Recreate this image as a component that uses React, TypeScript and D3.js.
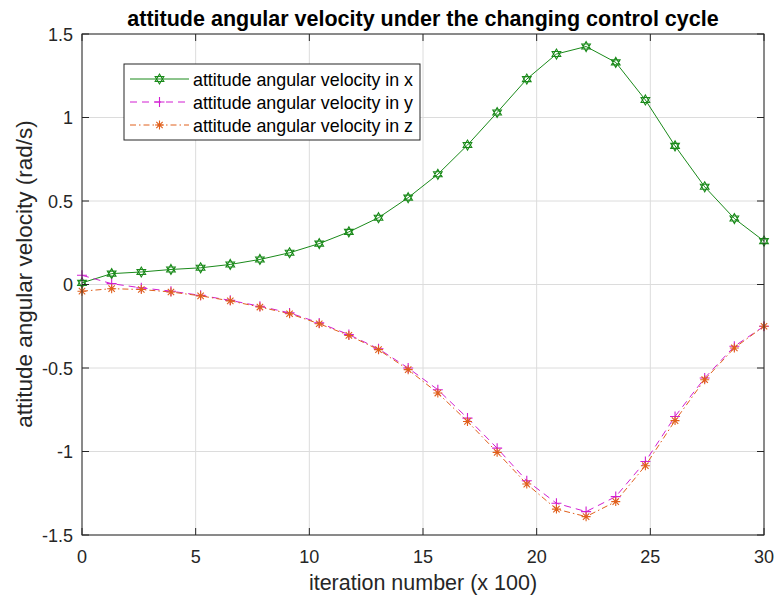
import React from "react";
import * as d3 from "d3";

const xValues: number[] = Array.from({ length: 24 }, (_, i) => (i * 30) / 23);
const seriesX: number[] = [0.01, 0.065, 0.075, 0.09, 0.1, 0.12, 0.15, 0.19, 0.245, 0.315, 0.4, 0.52, 0.66, 0.835, 1.03, 1.23, 1.38, 1.425, 1.33, 1.105, 0.83, 0.585, 0.395, 0.26];
const seriesY: number[] = [0.055, 0.005, -0.02, -0.04, -0.065, -0.095, -0.13, -0.17, -0.23, -0.3, -0.385, -0.5, -0.63, -0.8, -0.98, -1.175, -1.31, -1.36, -1.27, -1.06, -0.79, -0.56, -0.37, -0.25];
const seriesZ: number[] = [-0.04, -0.025, -0.03, -0.045, -0.068, -0.098, -0.135, -0.175, -0.235, -0.305, -0.39, -0.51, -0.65, -0.82, -1.005, -1.195, -1.345, -1.39, -1.3, -1.085, -0.815, -0.57, -0.38, -0.25];
const xTicks: number[] = [0, 5, 10, 15, 20, 25, 30];
const yTicks: number[] = [-1.5, -1, -0.5, 0, 0.5, 1, 1.5];
const legendLabels: string[] = [
  "attitude angular velocity in x",
  "attitude angular velocity in y",
  "attitude angular velocity in z",
];
const title = "attitude angular velocity under the changing control cycle";
const xLabel = "iteration number (x 100)";
const yLabel = "attitude angular velocity (rad/s)";

const W = 776;
const H = 597;
const L = 82, R = 764, T = 34, B = 535;
const FONT = "'Liberation Sans', Arial, Helvetica, sans-serif";
const AX = "#262626";

const cX = "#1a8a1a";
const cY = "#d21fd2";
const cZ = "#e0601c";

function hexagram(cx: number, cy: number, r: number): string {
  const t1 = d3.range(3).map((k) => {
    const a = -Math.PI / 2 + (k * 2 * Math.PI) / 3;
    return [cx + r * Math.cos(a), cy + r * Math.sin(a)];
  });
  const t2 = d3.range(3).map((k) => {
    const a = Math.PI / 2 + (k * 2 * Math.PI) / 3;
    return [cx + r * Math.cos(a), cy + r * Math.sin(a)];
  });
  const p = (pts: number[][]) => "M" + pts.map((q) => q.join(",")).join("L") + "Z";
  return p(t1) + p(t2);
}

function Marker({ kind, x, y, color }: { kind: string; x: number; y: number; color: string }) {
  if (kind === "hex") {
    return <path d={hexagram(x, y, 5)} fill="none" stroke={color} strokeWidth={1.1} />;
  }
  if (kind === "plus") {
    const s = 5;
    return (
      <path d={`M${x - s},${y}L${x + s},${y}M${x},${y - s}L${x},${y + s}`} stroke={color} strokeWidth={1.1} />
    );
  }
  const s = 4.5;
  const d = 3.2;
  return (
    <path
      d={`M${x - s},${y}L${x + s},${y}M${x},${y - s}L${x},${y + s}M${x - d},${y - d}L${x + d},${y + d}M${x - d},${y + d}L${x + d},${y - d}`}
      stroke={color}
      strokeWidth={1.1}
    />
  );
}

export default function App() {
  const x = d3.scaleLinear().domain([0, 30]).range([L, R]);
  const y = d3.scaleLinear().domain([-1.5, 1.5]).range([B, T]);
  const line = d3
    .line<number>()
    .x((_, i) => x(xValues[i]))
    .y((d) => y(d));

  const series = [
    { data: seriesX, color: cX, dash: "none", marker: "hex" },
    { data: seriesY, color: cY, dash: "7,5", marker: "plus" },
    { data: seriesZ, color: cZ, dash: "6,3,1.5,3", marker: "star" },
  ];

  const lgX = 124, lgY = 64, lgW = 296, lgH = 76;
  const rowY = [79, 102, 125];

  return (
    <svg width={W} height={H} style={{ position: "absolute", left: 0, top: 0 }} fontFamily={FONT}>
      <rect x={0} y={0} width={W} height={H} fill="#ffffff" />
      {xTicks.map((t) => (
        <line key={"gx" + t} x1={x(t)} x2={x(t)} y1={T} y2={B} stroke="#dcdcdc" strokeWidth={1} />
      ))}
      {yTicks.map((t) => (
        <line key={"gy" + t} x1={L} x2={R} y1={y(t)} y2={y(t)} stroke="#dcdcdc" strokeWidth={1} />
      ))}
      {series.map((s, k) => (
        <path key={"l" + k} d={line(s.data) || ""} fill="none" stroke={s.color} strokeWidth={1} strokeDasharray={s.dash} />
      ))}
      {series.map((s, k) =>
        s.data.map((v, i) => <Marker key={"m" + k + "-" + i} kind={s.marker} x={x(xValues[i])} y={y(v)} color={s.color} />)
      )}
      <rect x={L} y={T} width={R - L} height={B - T} fill="none" stroke={AX} strokeWidth={1} />
      {xTicks.map((t) => (
        <g key={"tx" + t}>
          <line x1={x(t)} x2={x(t)} y1={B} y2={B - 7} stroke={AX} />
          <line x1={x(t)} x2={x(t)} y1={T} y2={T + 7} stroke={AX} />
          <text x={x(t)} y={B + 28} textAnchor="middle" fontSize={18} fill={AX}>
            {t}
          </text>
        </g>
      ))}
      {yTicks.map((t) => (
        <g key={"ty" + t}>
          <line x1={L} x2={L + 7} y1={y(t)} y2={y(t)} stroke={AX} />
          <line x1={R} x2={R - 7} y1={y(t)} y2={y(t)} stroke={AX} />
          <text x={L - 9} y={y(t) + 6.5} textAnchor="end" fontSize={18} fill={AX}>
            {String(t)}
          </text>
        </g>
      ))}
      <text x={(L + R) / 2} y={26} textAnchor="middle" fontSize={21.5} fontWeight="bold" fill="#000">
        {title}
      </text>
      <text x={(L + R) / 2} y={590} textAnchor="middle" fontSize={21.5} fill={AX}>
        {xLabel}
      </text>
      <text transform={`translate(32,274) rotate(-90)`} textAnchor="middle" fontSize={22.5} fill={AX}>
        {yLabel}
      </text>
      <rect x={lgX} y={lgY} width={lgW} height={lgH} fill="#fff" stroke={AX} strokeWidth={1} />
      {series.map((s, k) => (
        <g key={"lg" + k}>
          <line x1={130} x2={189} y1={rowY[k]} y2={rowY[k]} stroke={s.color} strokeWidth={1} strokeDasharray={s.dash} />
          <Marker kind={s.marker} x={159.5} y={rowY[k]} color={s.color} />
          <text x={193} y={rowY[k] + 6.5} fontSize={17.8} fill="#000" textLength={220} lengthAdjust="spacingAndGlyphs">
            {legendLabels[k]}
          </text>
        </g>
      ))}
    </svg>
  );
}
